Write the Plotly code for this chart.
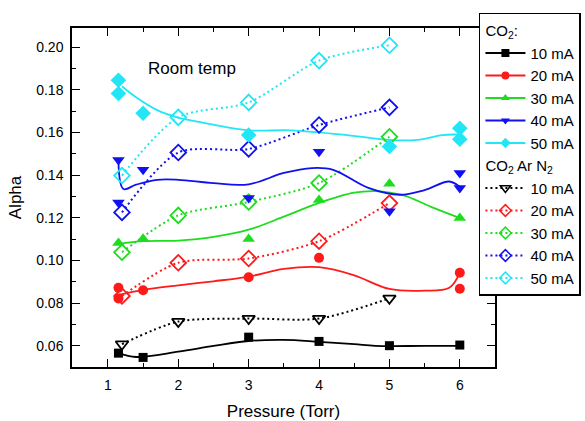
import plotly.graph_objects as go

# ---------------- data ----------------
series_names = ["10 mA", "20 mA", "30 mA", "40 mA", "50 mA"]
colors = ["#000000", "#ff1a1a", "#1edc1e", "#1010f0", "#22e6f5"]

# CO2 (filled symbols, solid fit lines)
co2_x = {
    "10 mA": [1.15, 1.5, 3, 4, 5, 6],
    "20 mA": [1.15, 1.15, 1.5, 3, 4, 6, 6],
    "30 mA": [1.15, 1.5, 3, 4, 5, 6],
    "40 mA": [1.15, 1.15, 1.5, 3, 4, 5, 6, 6],
    "50 mA": [1.15, 1.15, 1.5, 3, 5, 6, 6],
}
co2_y = {
    "10 mA": [0.0565, 0.0545, 0.0640, 0.0620, 0.0600, 0.0603],
    "20 mA": [0.0872, 0.0821, 0.0860, 0.0921, 0.1012, 0.0942, 0.0867],
    "30 mA": [0.1082, 0.1101, 0.1100, 0.1283, 0.1359, 0.1199],
    "40 mA": [0.1471, 0.1272, 0.1425, 0.1293, 0.1510, 0.1230, 0.1410, 0.1340],
    "50 mA": [0.1845, 0.1783, 0.1690, 0.1588, 0.1534, 0.1620, 0.1568],
}

# CO2 fit curves
fit_x = {
    "10 mA": [1.15, 1.4, 2, 2.5, 3, 3.5, 4, 4.5, 4.8, 5.5, 6],
    "20 mA": [1.15, 1.5, 2, 2.5, 3, 3.5, 4, 4.5, 5, 5.5, 5.85, 6],
    "30 mA": [1.15, 1.5, 2, 2.5, 3, 3.5, 4, 4.5, 4.8, 5.2, 5.6, 6],
    "40 mA": [1.15, 1.22, 1.4, 1.7, 2, 2.5, 3, 3.5, 3.9, 4.2, 4.7, 5.15, 5.5, 5.85, 6],
    "50 mA": [1.2, 1.4, 1.7, 2, 2.4, 3, 3.6, 4.4, 5, 5.4, 5.75, 6],
}
fit_y = {
    "10 mA": [0.0565, 0.0547, 0.0572, 0.0599, 0.0622, 0.0627, 0.0618, 0.0607, 0.0599, 0.0599, 0.0599],
    "20 mA": [0.0838, 0.0862, 0.0883, 0.0902, 0.0924, 0.0960, 0.0968, 0.0930, 0.0866, 0.0858, 0.0872, 0.0942],
    "30 mA": [0.1078, 0.1090, 0.1093, 0.1110, 0.1144, 0.1205, 0.1270, 0.1318, 0.1325, 0.1305, 0.1250, 0.1199],
    "40 mA": [0.1460, 0.1335, 0.1355, 0.1378, 0.1378, 0.1362, 0.1357, 0.1410, 0.1433, 0.1425, 0.1340, 0.1308, 0.1330, 0.1370, 0.1345],
    "50 mA": [0.1817, 0.1765, 0.1705, 0.1670, 0.1643, 0.1610, 0.1610, 0.1588, 0.1565, 0.1565, 0.1588, 0.1590],
}

# CO2 Ar N2 (open symbols, dotted lines)
mix_x = [1.2, 2, 3, 4, 5]
mix_y = {
    "10 mA": [0.0607, 0.0713, 0.0727, 0.0727, 0.0822],
    "20 mA": [0.0833, 0.0989, 0.1009, 0.1090, 0.1269],
    "30 mA": [0.1038, 0.1211, 0.1274, 0.1363, 0.1580],
    "40 mA": [0.1225, 0.1506, 0.1523, 0.1635, 0.1718],
    "50 mA": [0.1398, 0.1671, 0.1741, 0.1937, 0.2009],
}

x_ticks = [1, 2, 3, 4, 5, 6]
y_ticks = [0.06, 0.08, 0.10, 0.12, 0.14, 0.16, 0.18, 0.20]

# ---------------- styles ----------------
filled_symbols = ["square", "circle", "triangle-up", "triangle-down", "diamond"]
filled_sizes = [9, 10, 11, 11, 12]
open_symbols = ["triangle-down-open", "diamond-open", "diamond-open", "diamond-open", "diamond-open"]
open_sizes = [11, 12, 12, 12, 12]
FONT = "Liberation Sans, Arial, sans-serif"
LEG_SIZE = 15

fig = go.Figure()

# fit lines & markers
for i, name in enumerate(series_names):
    c = colors[i]
    fig.add_trace(go.Scatter(x=fit_x[name], y=fit_y[name], mode="lines",
                             line=dict(color=c, width=1.8, shape="spline"),
                             showlegend=False, hoverinfo="skip"))
    fig.add_trace(go.Scatter(x=mix_x, y=mix_y[name], mode="lines",
                             line=dict(color=c, width=2, dash="2px,3px", shape="spline", smoothing=0.8),
                             showlegend=False, hoverinfo="skip"))
for i, name in enumerate(series_names):
    c = colors[i]
    fig.add_trace(go.Scatter(x=co2_x[name], y=co2_y[name], mode="markers",
                             marker=dict(symbol=filled_symbols[i], size=filled_sizes[i], color=c,
                                         line=dict(width=0)),
                             showlegend=False))
    fig.add_trace(go.Scatter(x=mix_x, y=mix_y[name], mode="markers",
                             marker=dict(symbol=open_symbols[i], size=open_sizes[i], color=c,
                                         line=dict(width=1.8, color=c)),
                             showlegend=False))

# legend entries
for i, name in enumerate(series_names):
    c = colors[i]
    fig.add_trace(go.Scatter(x=[None], y=[None], mode="lines+markers", name=name,
                             legendgroup="co2",
                             legendgrouptitle=dict(text="CO<sub>2</sub>:", font=dict(size=LEG_SIZE, color="black", family=FONT)),
                             line=dict(color=c, width=1.8),
                             marker=dict(symbol=filled_symbols[i], size=8, color=c)))
for i, name in enumerate(series_names):
    c = colors[i]
    fig.add_trace(go.Scatter(x=[None], y=[None], mode="lines+markers", name=name,
                             legendgroup="mix",
                             legendgrouptitle=dict(text="CO<sub>2</sub> Ar N<sub>2</sub>", font=dict(size=LEG_SIZE, color="black", family=FONT)),
                             line=dict(color=c, width=1.8, dash="2px,3px"),
                             marker=dict(symbol=open_symbols[i], size=9, color=c, line=dict(width=1.5, color=c))))

fig.add_annotation(x=2.19, y=0.190, text="Room temp", showarrow=False,
                   font=dict(size=17, color="black", family=FONT))

axis_common = dict(showline=True, linecolor="black", linewidth=1.5, mirror="allticks",
                   ticks="inside", ticklen=8, tickwidth=1.3, tickcolor="black",
                   showgrid=False, zeroline=False,
                   tickfont=dict(size=14, color="black", family=FONT))

fig.update_layout(
    width=585, height=421,
    margin=dict(l=72, r=90, t=28, b=54, autoexpand=False),
    plot_bgcolor="white", paper_bgcolor="white",
    font=dict(family=FONT, color="black"),
    xaxis=dict(range=[0.49, 6.5], tickvals=x_ticks, ticklabelstandoff=4,
               minor=dict(dtick=0.5, tick0=0, ticks="inside", ticklen=4, tickcolor="black", tickwidth=1.2),
               title=dict(text="Pressure (Torr)", font=dict(size=17, color="black", family=FONT), standoff=15),
               **axis_common),
    yaxis=dict(range=[0.050, 0.209], tickvals=y_ticks, tickformat=".2f", ticklabelstandoff=4,
               minor=dict(dtick=0.01, tick0=0, ticks="inside", ticklen=4, tickcolor="black", tickwidth=1.2),
               title=dict(text="Alpha", font=dict(size=17, color="black", family=FONT), standoff=10),
               **axis_common),
    legend=dict(x=0.962, xanchor="left", y=1.045, yanchor="top", maxheight=300,
                bgcolor="white", bordercolor="black", borderwidth=1.5,
                font=dict(size=LEG_SIZE, color="black", family=FONT),
                tracegroupgap=0, itemwidth=40),
)

fig.write_html("out.html")
